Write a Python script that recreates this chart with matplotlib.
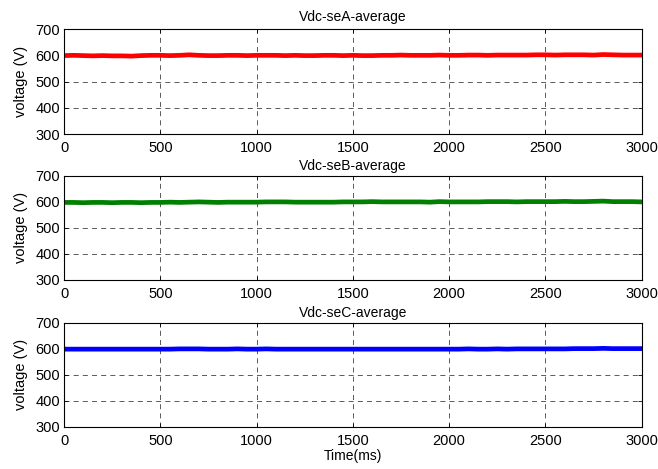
import matplotlib
matplotlib.use("Agg")
import matplotlib.pyplot as plt
import numpy as np

plt.rcParams['font.family'] = ['Liberation Sans', 'DejaVu Sans']

time_ms = [0, 50, 100, 150, 200, 250, 300, 350, 400, 450, 500, 550, 600, 650, 700, 750,
           800, 850, 900, 950, 1000, 1050, 1100, 1150, 1200, 1250, 1300, 1350, 1400, 1450, 1500,
           1550, 1600, 1650, 1700, 1750, 1800, 1850, 1900, 1950, 2000, 2050, 2100, 2150, 2200,
           2250, 2300, 2350, 2400, 2450, 2500, 2550, 2600, 2650, 2700, 2750, 2800, 2850, 2900,
           2950, 3000]
vdc_a = [599, 600, 599, 598, 599, 598, 598, 597, 599, 600, 600, 599, 600, 602, 600, 599,
         599, 600, 600, 599, 600, 600, 600, 599, 600, 599, 599, 600, 600, 599, 600,
         599, 599, 600, 600, 601, 600, 600, 600, 601, 600, 600, 601, 601, 600,
         601, 601, 601, 601, 602, 602, 601, 602, 602, 602, 601, 603, 602, 601,
         601, 601]
vdc_b = [598, 598, 597, 598, 598, 597, 598, 598, 597, 598, 598, 599, 598, 599, 600, 599,
         598, 599, 599, 599, 599, 600, 600, 600, 599, 599, 599, 599, 599, 600, 600,
         600, 601, 600, 600, 600, 600, 600, 599, 601, 600, 600, 600, 600, 601,
         601, 601, 600, 601, 601, 601, 601, 602, 601, 601, 602, 603, 601, 601,
         601, 600]
vdc_c = [599, 599, 599, 599, 599, 599, 599, 599, 599, 599, 599, 599, 600, 600, 600, 599,
         599, 599, 600, 599, 599, 600, 599, 599, 599, 599, 599, 599, 599, 599, 599,
         599, 599, 599, 599, 599, 599, 599, 599, 599, 599, 599, 600, 599, 599,
         600, 599, 600, 600, 600, 600, 600, 600, 601, 601, 601, 602, 601, 601,
         601, 601]

titles = ['Vdc-seA-average', 'Vdc-seB-average', 'Vdc-seC-average']
colors = ['#ff0000', '#008000', '#0000ff']
series = [vdc_a, vdc_b, vdc_c]
xticks = [0, 500, 1000, 1500, 2000, 2500, 3000]
yticks = [300, 400, 500, 600, 700]

fig = plt.figure(figsize=(6.58, 4.69), dpi=100)
positions = [[0.0973, 0.714, 0.878, 0.224],
             [0.0973, 0.403, 0.878, 0.222],
             [0.0973, 0.0896, 0.878, 0.222]]
title_pads = [6, 4.5, 4]

for i, (pos, y, c, t) in enumerate(zip(positions, series, colors, titles)):
    ax = fig.add_axes(pos)
    ax.plot(time_ms, y, color=c, linewidth=3.4)
    ax.set_xlim(0, 3000)
    ax.set_ylim(300, 700)
    ax.set_xticks(xticks)
    ax.set_yticks(yticks)
    ax.tick_params(direction='in', labelsize=10.5, length=3, width=0.6, top=True, right=True)
    ax.tick_params(axis='x', pad=5)
    ax.tick_params(axis='y', pad=3)
    ax.grid(True, color='black', linestyle=(0, (6, 5)), linewidth=0.6, alpha=0.75)
    for s in ax.spines.values():
        s.set_linewidth(0.8)
    ax.set_title(t, fontsize=10, pad=title_pads[i])
    ax.set_ylabel('voltage (V)', fontsize=10.5, labelpad=5)
    if i == 2:
        ax.set_xlabel('Time(ms)', fontsize=10, labelpad=1)

fig.savefig('out.png', dpi=100)
